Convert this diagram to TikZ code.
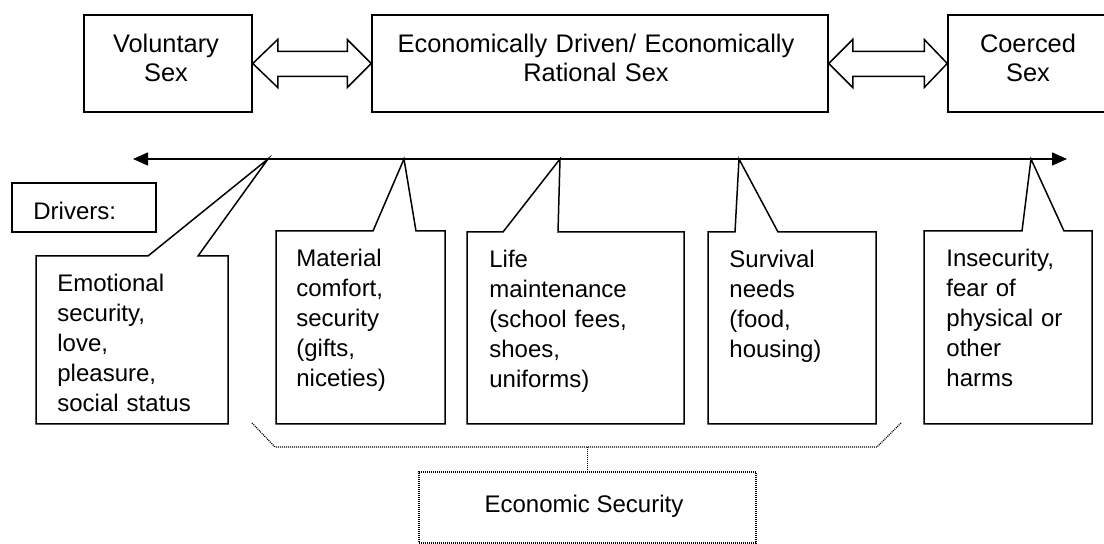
\documentclass[tikz,border=0pt]{standalone}
\usepackage{fontspec}
\setmainfont{Liberation Sans}
\usetikzlibrary{arrows.meta,fit,calc}
\begin{document}
\begin{tikzpicture}[x=0.5pt,y=-0.5pt,
  box/.style={draw, line width=0.75pt, inner sep=0pt},
  frame/.style={line width=0.75pt, line join=miter},
  dots/.style={line width=0.6pt, dash pattern=on 0.5pt off 0.5pt},
  dotbox/.style={draw, inner sep=0pt, line width=0.6pt, dash pattern=on 0.5pt off 0.5pt},
  toptxt/.style={inner sep=0pt, anchor=base, text width=220pt, align=center, font=\fontsize{12.7}{14.5}\selectfont},
  lowtxt/.style={inner sep=0pt, anchor=base west, text width=74pt, align=left, font=\fontsize{12}{15}\selectfont},
  plaintxt/.style={inner sep=0pt, font=\fontsize{12}{15}\selectfont}
]
\useasboundingbox (0,0) rectangle (1104,544);
\clip (0,0) rectangle (1104,544);

% top boxes
\node[box, fit={(84,15) (252,112)}] (vol) {};
\node[box, fit={(372,15) (828,112)}] (eco) {};
\node[box, fit={(948,15) (1108,112)}] (coe) {};
\node[toptxt] (volt) at (166,53) {Voluntary\\Sex};
\node[toptxt] (ecot) at (596,53) {Economically Driven/ Economically\\Rational Sex};
\node[toptxt] (coet) at (1028,53) {Coerced\\Sex};

% block double arrows
\draw[frame] (vol.east) -- ++(25,-24) -- ++(0,12) -- ($(eco.west)+(-24,-12)$) -- ++(0,-12) -- (eco.west)
  -- ++(-24,24) -- ++(0,-11) -- ($(vol.east)+(25,13)$) -- ++(0,11) -- cycle;
\draw[frame] (eco.east) -- ++(24,-24) -- ++(0,12) -- ($(coe.west)+(-23,-12)$) -- ++(0,-12) -- (coe.west)
  -- ++(-23,24) -- ++(0,-11) -- ($(eco.east)+(24,13)$) -- ++(0,11) -- cycle;

% main scale line
\coordinate (L) at (133,159);
\coordinate (R) at (1067,159);
\draw[line width=0.75pt, {Triangle[length=7.5pt,width=6.5pt]}-{Triangle[length=7.5pt,width=6.5pt]}] (L) -- (R);

% drivers label
\node[box, fit={(12,183) (156,232)}] (drv) {};
\node[plaintxt, anchor=base west] (drvt) at (33,220) {Drivers:};

% callouts
\draw[frame] (36,256) -- (148,256) -- (268,159) -- (198,256) -- (228,256) -- (228,424) -- (36,424) -- cycle;
\node[lowtxt] (emo) at (57,292) {Emotional\\security,\\love,\\pleasure,\\social status};

\draw[frame] (276,231) -- (373,231) -- (404,159) -- (416,231) -- (445,231) -- (445,424) -- (276,424) -- cycle;
\node[lowtxt] (mat) at (296,267) {Material\\comfort,\\security\\(gifts,\\niceties)};

\draw[frame] (467,232) -- (503,232) -- (560,159) -- (558,232) -- (684,232) -- (684,424) -- (467,424) -- cycle;
\node[lowtxt] (life) at (489,268) {Life\\maintenance\\(school fees,\\shoes,\\uniforms)};

\draw[frame] (708,232) -- (735,232) -- (739,159) -- (778,232) -- (876,232) -- (876,424) -- (708,424) -- cycle;
\node[lowtxt] (surv) at (729,268) {Survival\\needs\\(food,\\housing)};

\draw[frame] (924,231) -- (1022,231) -- (1031,159) -- (1064,231) -- (1092,231) -- (1092,424) -- (924,424) -- cycle;
\node[lowtxt] (insec) at (946,267) {Insecurity,\\fear of\\physical or\\other\\harms};

% economic security bracket
\node[dotbox, fit={(419,472) (756,543)}] (ecos) {};
\node[plaintxt, anchor=base] (ecost) at (584,513) {Economic Security};
\coordinate (brk) at (ecos.north |- 0,447);
\draw[dots] (252,423) -- (275,447) -- (877,447) -- (901,423);
\draw[dots] (brk) -- (ecos.north);
\end{tikzpicture}
\end{document}
